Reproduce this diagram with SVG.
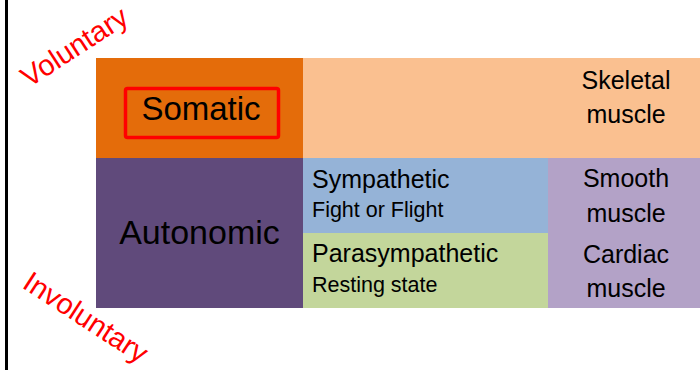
<svg xmlns="http://www.w3.org/2000/svg" width="700" height="370" viewBox="0 0 700 370">
<style>
text{font-family:"Liberation Sans",Arial,sans-serif;fill:#000}
.big{font-size:33px}
.mid{font-size:25px}
.sm{font-size:21.5px}
.red{fill:#FF0000;font-size:29px}
.c{text-anchor:middle}
</style>
<rect width="700" height="370" fill="#fff"/>
<line x1="6.5" y1="0" x2="6.5" y2="370" stroke="#000" stroke-width="3"/>
<g id="somatic">
<rect x="96" y="58" width="207" height="100" fill="#E46C0A"/>
<rect x="125.5" y="88.5" width="153" height="49" rx="2" fill="none" stroke="#FF0000" stroke-width="3.5"/>
<text class="big c" x="201" y="120">Somatic</text>
</g>
<g id="skeletal">
<rect x="303" y="58" width="397" height="100" fill="#FAC090"/>
<text class="mid c" x="626" y="89">Skeletal</text>
<text class="mid c" x="626" y="123">muscle</text>
</g>
<g id="autonomic">
<rect x="96" y="158" width="207" height="150" fill="#604A7B"/>
<text class="big c" x="199.5" y="244" style="font-size:34px">Autonomic</text>
</g>
<g id="sympathetic">
<rect x="303" y="158" width="245" height="75" fill="#95B3D7"/>
<text class="mid" x="312" y="188">Sympathetic</text>
<text class="sm" x="312" y="217">Fight or Flight</text>
</g>
<g id="parasympathetic">
<rect x="303" y="233" width="245" height="75" fill="#C3D69B"/>
<text class="mid" x="312" y="262">Parasympathetic</text>
<text class="sm" x="312" y="292">Resting state</text>
</g>
<g id="smooth-cardiac">
<rect x="548" y="158" width="152" height="150" fill="#B3A2C7"/>
<text class="mid c" x="626" y="187">Smooth</text>
<text class="mid c" x="626" y="222">muscle</text>
<text class="mid c" x="626" y="263">Cardiac</text>
<text class="mid c" x="626" y="297">muscle</text>
</g>
<g id="voluntary">
<text class="red" transform="translate(29,88) rotate(-33)">Voluntary</text>
</g>
<g id="involuntary">
<text class="red" transform="translate(21,287) rotate(33)">Involuntary</text>
</g>
<g id="connectors"></g>
</svg>
